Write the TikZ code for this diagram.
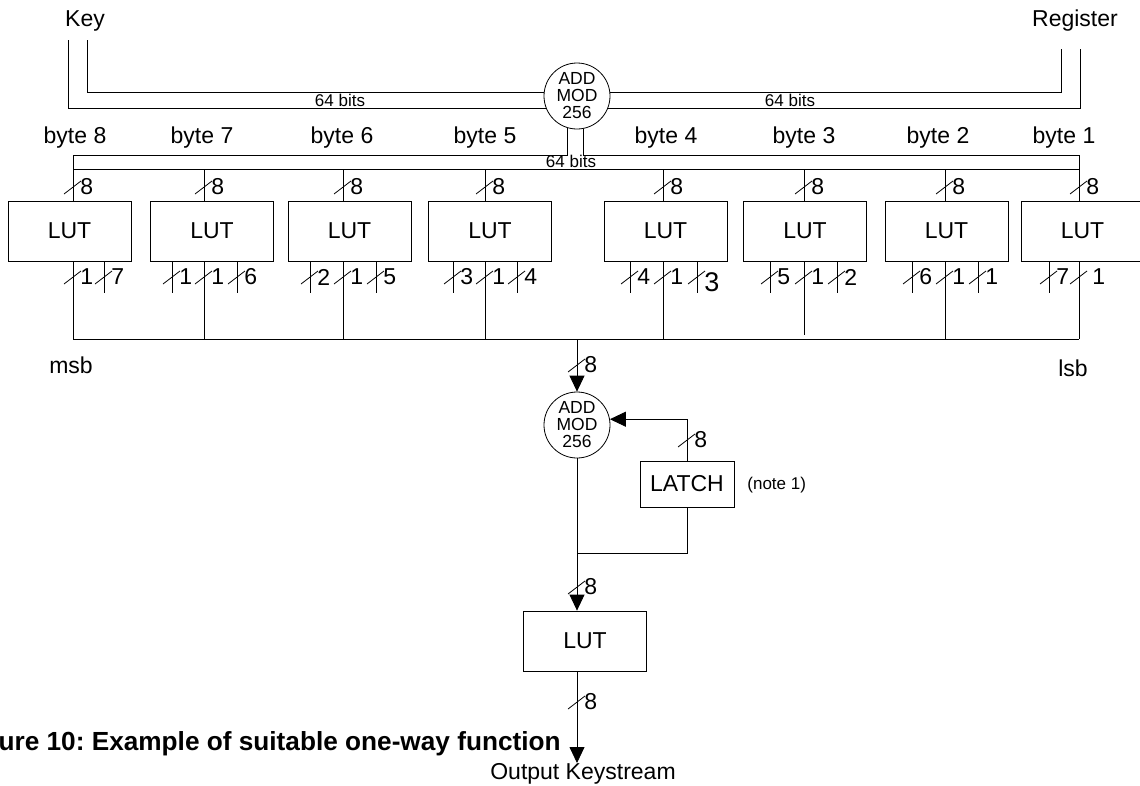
\documentclass[tikz,border=0pt]{standalone}
\usepackage{fontspec}
\setmainfont{Liberation Sans}
\usetikzlibrary{arrows.meta}
\frenchspacing

\newcommand{\bigtext}{\fontsize{23}{26}\selectfont}
\newcommand{\smalltext}{\fontsize{17}{17}\selectfont}
\newcommand{\captext}{\fontsize{26.2}{28}\selectfont\bfseries}
\newcommand{\buswd}[4][]{%
  \coordinate (#2) at (#3);
  \draw (#2) ++(-9,7) -- ++(17,-13);
  \node[num, anchor=west, #1] (#2n) at ([xshift=7pt]#2) {#4};}

\begin{document}
\begin{tikzpicture}[x=1pt, y=-1pt, line width=0.8pt, >={Triangle[length=16pt,width=15pt]},
    lut/.style={draw, minimum width=123pt, minimum height=60pt, inner sep=0pt, font=\bigtext},
    latchbox/.style={draw, minimum width=94pt, minimum height=46pt, inner sep=0pt, font=\bigtext},
    adder/.style={draw, circle, minimum size=66pt, inner sep=0pt, align=center, font=\fontsize{17.5}{17}\selectfont},
    word/.style={inner sep=0pt, font=\bigtext},
    note/.style={inner sep=0pt, font=\smalltext},
    num/.style={inner sep=0pt, font=\bigtext}]
    \useasboundingbox (0,0) rectangle (1140,785);

    \node[word, anchor=base] (key) at (85,26) {Key};
    \node[word, anchor=base] (register) at (1075,26) {Register};
    \coordinate (keyout) at (68,40);
    \coordinate (keyin) at (87,40);
    \coordinate (regin) at (1061,49);
    \coordinate (regout) at (1080,49);
    \node[adder] (add1) at (577,96) {ADD\\MOD\\256};
    \draw (keyout) |- (add1.201);
    \draw (keyin) |- (add1.173);
    \draw (regin) |- (add1.7);
    \draw (regout) |- (add1.339);
    \node[note, anchor=base] (bitsl) at (340,106) {64 bits};
    \node[note, anchor=base] (bitsr) at (790,106) {64 bits};

    \node[word, anchor=base] (byte8) at (75,143) {byte 8};
    \node[word, anchor=base] (byte7) at (202,143) {byte 7};
    \node[word, anchor=base] (byte6) at (342,143) {byte 6};
    \node[word, anchor=base] (byte5) at (485,143) {byte 5};
    \node[word, anchor=base] (byte4) at (666,143) {byte 4};
    \node[word, anchor=base] (byte3) at (804,143) {byte 3};
    \node[word, anchor=base] (byte2) at (938,143) {byte 2};
    \node[word, anchor=base] (byte1) at (1064,143) {byte 1};

    \node[lut] (lut1) at (69.5,231) {LUT};
    \node[lut] (lut2) at (212,231) {LUT};
    \node[lut] (lut3) at (349.5,231) {LUT};
    \node[lut] (lut4) at (490,231) {LUT};
    \node[lut] (lut5) at (665.5,231) {LUT};
    \node[lut] (lut6) at (805,231) {LUT};
    \node[lut] (lut7) at (946.5,231) {LUT};
    \node[lut] (lut8) at (1082.5,231) {LUT};

    \coordinate (in1) at (73,169);
    \coordinate (in2) at (204,169);
    \coordinate (in3) at (343,169);
    \coordinate (in4) at (485,169);
    \coordinate (in5) at (663,169);
    \coordinate (in6) at (804,169);
    \coordinate (in7) at (945,169);
    \coordinate (in8) at (1079,169);
    \draw (add1.254) |- ([yshift=14pt]in1) -- (in1 |- lut1.north);
    \draw (add1.281) |- ([yshift=14pt]in8) -- (in8 |- lut8.north);
    \draw (in1) -- (in8);
    \node[note, anchor=base] (bitsm) at (571,167) {64 bits};
    \draw (in2) -- (in2 |- lut2.north);
    \draw (in3) -- (in3 |- lut3.north);
    \draw (in4) -- (in4 |- lut4.north);
    \draw (in5) -- (in5 |- lut5.north);
    \draw (in6) -- (in6 |- lut6.north);
    \draw (in7) -- (in7 |- lut7.north);
    \buswd{w1}{73,187}{8}
    \buswd{w2}{204,187}{8}
    \buswd{w3}{343,187}{8}
    \buswd{w4}{485,187}{8}
    \buswd{w5}{663,187}{8}
    \buswd{w6}{804,187}{8}
    \buswd{w7}{945,187}{8}
    \buswd{w8}{1079,187}{8}

    \coordinate (outl) at (73,339);
    \coordinate (outr) at (1079,339);
    \draw (outl) -- (outr);
    \draw (lut1.south -| in1) -- (outl);
    \draw (lut2.south -| in2) -- (in2 |- outl);
    \draw (lut3.south -| in3) -- (in3 |- outl);
    \draw (lut4.south -| in4) -- (in4 |- outl);
    \draw (lut5.south -| in5) -- (in5 |- outl);
    \draw (lut6.south -| in6) -- ++(0,74);
    \draw (lut7.south -| in7) -- (in7 |- outl);
    \draw (lut8.south -| in8) -- (outr);
    \draw (lut1.south -| in1) ++(31,0) -- ++(0,32);
    \draw (lut2.south -| in2) ++(-32,0) -- ++(0,32);
    \draw (lut2.south -| in2) ++(33,0) -- ++(0,32);
    \draw (lut3.south -| in3) ++(-33,0) -- ++(0,32);
    \draw (lut3.south -| in3) ++(33,0) -- ++(0,32);
    \draw (lut4.south -| in4) ++(-32,0) -- ++(0,32);
    \draw (lut4.south -| in4) ++(32,0) -- ++(0,32);
    \draw (lut5.south -| in5) ++(-33,0) -- ++(0,32);
    \draw (lut5.south -| in5) ++(34,0) -- ++(0,32);
    \draw (lut6.south -| in6) ++(-34,0) -- ++(0,32);
    \draw (lut6.south -| in6) ++(33,0) -- ++(0,32);
    \draw (lut7.south -| in7) ++(-33,0) -- ++(0,32);
    \draw (lut7.south -| in7) ++(33,0) -- ++(0,32);
    \draw (lut8.south -| in8) ++(-30,0) -- ++(0,32);
    \buswd{o1a}{73,277}{1}
    \buswd{o1b}{104,277}{7}
    \buswd{o2a}{172,277}{1}
    \buswd{o2b}{204,277}{1}
    \buswd{o2c}{237,277}{6}
    \buswd{o3a}{310,277}{2}
    \buswd{o3b}{343,277}{1}
    \buswd{o3c}{376,277}{5}
    \buswd{o4a}{453,277}{3}
    \buswd{o4b}{485,277}{1}
    \buswd{o4c}{517,277}{4}
    \buswd{o5a}{630,277}{4}
    \buswd{o5b}{663,277}{1}
    \buswd[yshift=-5pt, font=\fontsize{27}{27}\selectfont]{o5c}{697,277}{3}
    \buswd{o6a}{770,277}{5}
    \buswd{o6b}{804,277}{1}
    \buswd{o6c}{837,277}{2}
    \buswd{o7a}{912,277}{6}
    \buswd{o7b}{945,277}{1}
    \buswd{o7c}{978,277}{1}
    \buswd{o8a}{1049,277}{7}
    \buswd[xshift=6pt]{o8b}{1079,277}{1}
    \node[word, anchor=base] (msb) at (71,373) {msb};
    \node[word, anchor=base] (lsb) at (1073,376) {lsb};

    \coordinate (busout) at (577,339);
    \node[adder] (add2) at (577,425) {ADD\\MOD\\256};
    \draw[->] (busout) -- (add2.north);
    \buswd{w9}{577,365}{8}
    \node[latchbox] (latch) at (687,484) {LATCH};
    \node[note, anchor=west] (note) at (747,485) {(note 1)};
    \draw[->] (latch.north) |- (add2.10);
    \buswd{w10}{687,440}{8}
    \node[lut] (lut9) at (585,641) {LUT};
    \coordinate (merge) at (577,553);
    \draw[->] (add2.south) -- (add2.south |- lut9.north);
    \draw (latch.south) |- (merge);
    \buswd{w11}{577,587}{8}
    \coordinate (outtip) at (577,763);
    \draw[->] (lut9.south -| outtip) -- (outtip);
    \buswd{w12}{577,702}{8}
    \node[word, anchor=base] (keystream) at (583,779) {Output Keystream};
    \node[word, font=\captext, anchor=base east] (caption) at (561,750) {Figure 10: Example of suitable one-way function};
\end{tikzpicture}
\end{document}
